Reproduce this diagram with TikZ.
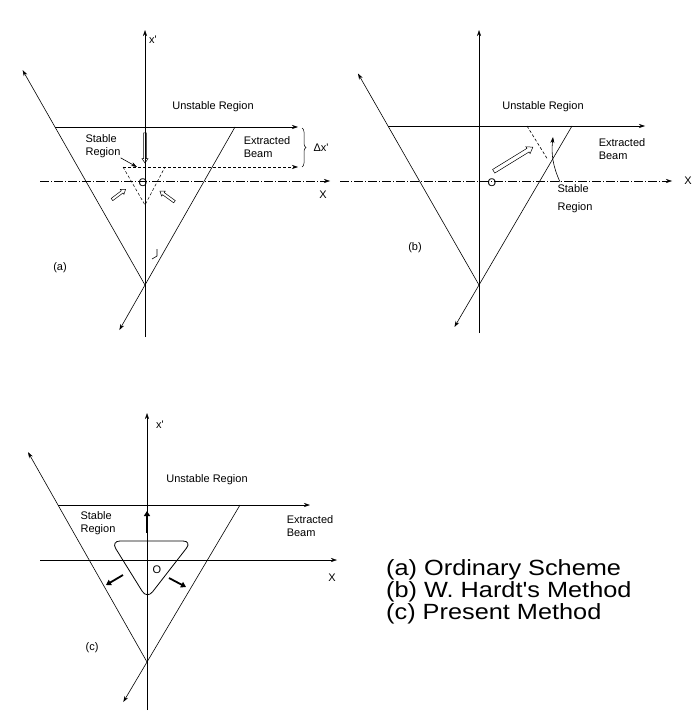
\documentclass[tikz,border=0pt]{standalone}
\usepackage{fontspec}
\setmainfont{Liberation Sans}
\usetikzlibrary{arrows.meta,shapes.arrows,decorations.pathreplacing,calc}
\tikzset{
  ln/.style={line width=0.6pt},
  vax/.style={line width=0.5pt,->},
  hax/.style={line width=0.5pt,dash pattern=on 9pt off 2pt on 1pt off 2pt,->},
  lbl/.style={font=\fontsize{11}{13}\selectfont,inner sep=0pt,align=left},
  hollow/.style={single arrow,draw,line width=0.5pt,inner sep=1pt,minimum width=6pt,
    single arrow head extend=1.5pt,single arrow tip angle=70},
  solidarr/.style={line width=1.8pt,-{Triangle[length=5pt,width=6pt]}},
  legend/.style={font=\fontsize{22}{24}\selectfont,inner sep=0pt,anchor=base west,xscale=1.15}
}
\begin{document}
\begin{tikzpicture}[x=1pt,y=-1pt,>={Stealth[length=6pt,width=4pt]}]
  \useasboundingbox (0,0) rectangle (699,711);
  \coordinate (a-ap) at (145,285);\coordinate (a-tl) at (55,127);\coordinate (a-tr) at (235,127);
  \draw[vax] (145,337) -- (145,30);
  \draw[hax] (40,181) -- (330,181);
  \draw[ln,->] (a-tl) -- (298,127);
  \draw[ln,->] (a-ap) -- ($(a-ap)!1.36!(a-tl)$);
  \draw[ln,->] (a-tr) -- ($(a-tr)!1.285!(a-ap)$);
  \draw[ln,densely dashed,->] (123,167) -- (298,167);
  \draw[line width=0.5pt,densely dashed] (123,167) -- (145,205) -- (165,167);
  \draw[line width=0.5pt,decorate,decoration={brace,amplitude=4pt}] (302,128) -- (302,167);
  \node[lbl] (a-xp) at (153,40) {x\textquotesingle};
  \node[lbl] (a-x) at (323,195) {X};
  \node[lbl] (a-o) at (143,183) {O};
  \node[lbl] (a-un) at (213,107) {Unstable Region};
  \node[lbl] (a-st) at (103,146) {Stable\\Region};
  \node[lbl] (a-ex) at (267,147) {Extracted\\Beam};
  \node[lbl] (a-dx) at (321,148) {Δx\textquotesingle};
  \node[lbl] (a-lab) at (60,268) {(a)};
  \coordinate (a-in) at (137,167);
  \draw[ln,->] (a-st.south east) -- (a-in);
  \node[hollow,minimum height=30pt,rotate=-90] (a-h1) at (145,147) {};
  \node[hollow,minimum height=17pt,rotate=37] (a-h2) at (118,195) {};
  \node[hollow,minimum height=18pt,rotate=144] (a-h3) at (168,197) {};
  \draw[ln] (157,249) -- (157,256) -- (152,259);
  \coordinate (b-ap) at (479,285);\coordinate (b-tl) at (388,126);\coordinate (b-tr) at (572,126);
  \draw[vax] (479,333) -- (479,30);
  \draw[hax] (340,181) -- (672,181);
  \draw[ln,->] (b-tl) -- (645,126);
  \draw[ln,->] (b-ap) -- ($(b-ap)!1.33!(b-tl)$);
  \draw[ln,->] (b-tr) -- ($(b-tr)!1.264!(b-ap)$);
  \draw[ln,densely dashed] (527,126) -- (548,160);
  \node[lbl] (b-x) at (688,181) {X};
  \node[lbl] (b-o) at (492,183) {O};
  \node[lbl] (b-un) at (543,107) {Unstable Region};
  \node[lbl,font=\fontsize{11}{18}\selectfont] (b-st) at (575,199) {Stable\\Region};
  \node[lbl] (b-ex) at (622,149) {Extracted\\Beam};
  \node[lbl] (b-lab) at (415,248) {(b)};
  \coordinate (b-in) at (553,137);
  \draw[ln,->] (560,182) to[bend left=15] (b-in);
  \node[hollow,minimum height=46pt,minimum width=8pt,inner sep=1.4pt,rotate=31.6] (b-h1) at (512,160) {};
  \coordinate (c-ap) at (147,662);\coordinate (c-tl) at (58,505);\coordinate (c-tr) at (240,505);
  \draw[vax] (147,710) -- (147,413);
  \draw[line width=0.5pt,->] (40,560) -- (337,560);
  \draw[ln,->] (c-tl) -- (310,505);
  \draw[ln,->] (c-ap) -- ($(c-ap)!1.337!(c-tl)$);
  \draw[ln,->] (c-tr) -- ($(c-tr)!1.255!(c-ap)$);
  \draw[line width=0.8pt,rounded corners=9pt] (111,541) -- (192,541) -- (147,599) -- cycle;
  \draw[solidarr] (147,533) -- (147,511);
  \draw[solidarr] (123,575) -- (106,585);
  \draw[solidarr] (169,578) -- (186,587);
  \node[lbl] (c-xp) at (160,425) {x\textquotesingle};
  \node[lbl] (c-x) at (332,578) {X};
  \node[lbl] (c-o) at (157,570) {O};
  \node[lbl] (c-un) at (207,480) {Unstable Region};
  \node[lbl] (c-st) at (98,523) {Stable\\Region};
  \node[lbl] (c-ex) at (310,526) {Extracted\\Beam};
  \node[lbl] (c-lab) at (92,648) {(c)};
  \node[legend] (lg-a) at (386,575) {(a) Ordinary Scheme};
  \node[legend] (lg-b) at (386,597) {(b) W. Hardt\textquotesingle s Method};
  \node[legend] (lg-c) at (386,619) {(c) Present Method};
\end{tikzpicture}
\end{document}
